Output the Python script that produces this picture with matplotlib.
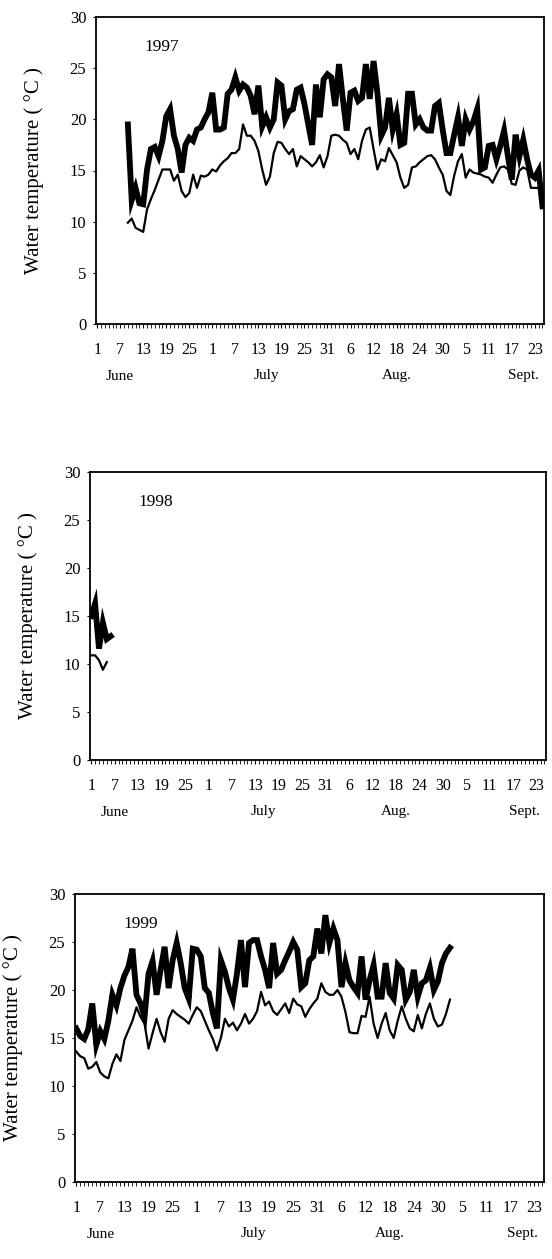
import matplotlib
matplotlib.use("Agg")
import matplotlib.pyplot as plt
from matplotlib.ticker import MultipleLocator

plt.rcParams['font.family'] = ['Liberation Serif', 'DejaVu Serif']

# x axis: days counted from June 1 (= 0)
tick_days = [0, 6, 12, 18, 24, 30, 36, 42, 48, 54, 60, 66, 72, 78, 84, 90, 96, 102, 108, 114]
tick_labels = ["1", "7", "13", "19", "25", "1", "7", "13", "19", "25", "31",
               "6", "12", "18", "24", "30", "5", "11", "17", "23"]
month_names = ["June", "July", "Aug.", "Sept."]
month_days = [6, 44, 78, 111]

# 1997
start_1997 = 8
thick_1997 = [19.5, 12.1, 13.3, 11.8, 11.7, 15.1, 17.1, 17.3, 16.4, 17.9,
              20.3, 21.0, 18.4, 17.1, 14.8, 17.5, 18.2, 17.9, 19.0, 19.2,
              20.0, 20.7, 22.6, 19.0, 19.0, 19.2, 22.5, 22.9, 24.1, 22.8,
              23.4, 23.1, 22.3, 20.5, 23.3, 19.3, 20.2, 19.2, 20.0, 23.6,
              23.3, 20.0, 20.8, 21.0, 22.9, 23.1, 21.5, 19.5, 17.5, 23.4,
              20.2, 23.9, 24.4, 24.1, 21.3, 25.4, 22.0, 18.9, 22.6, 22.8,
              21.8, 22.1, 25.4, 22.0, 25.7, 22.6, 18.4, 19.2, 22.1, 19.0,
              20.5, 17.5, 17.7, 22.5, 22.5, 19.5, 20.0, 19.2, 18.9, 18.9,
              21.3, 21.6, 19.0, 16.7, 16.7, 18.5, 20.2, 17.4, 20.0, 19.0,
              19.8, 21.0, 15.1, 15.3, 17.4, 17.5, 16.1, 17.4, 18.9, 16.4,
              14.1, 18.5, 16.4, 18.0, 16.1, 14.6, 14.3, 15.0, 11.5]
thin_1997 = [9.9, 10.3, 9.4, 9.2, 9.0, 11.2, 12.2, 13.1, 14.1, 15.1,
             15.1, 15.1, 14.0, 14.6, 13.0, 12.4, 12.8, 14.6, 13.3, 14.5,
             14.4, 14.6, 15.1, 14.9, 15.5, 15.9, 16.2, 16.7, 16.7, 17.1,
             19.5, 18.4, 18.4, 17.9, 16.9, 15.1, 13.6, 14.4, 16.7, 17.8,
             17.7, 17.1, 16.6, 17.1, 15.4, 16.4, 16.1, 15.8, 15.4, 15.8,
             16.5, 15.3, 16.4, 18.4, 18.5, 18.4, 18.0, 17.7, 16.6, 17.1,
             16.1, 17.9, 19.0, 19.2, 17.1, 15.1, 16.1, 15.9, 17.2, 16.5,
             15.8, 14.3, 13.3, 13.6, 15.3, 15.4, 15.8, 16.1, 16.4, 16.5,
             16.1, 15.3, 14.6, 13.0, 12.6, 14.5, 15.9, 16.6, 14.3, 15.1,
             14.8, 14.7, 14.6, 14.4, 14.3, 13.8, 14.6, 15.3, 15.4, 15.1,
             13.7, 13.6, 15.0, 15.3, 15.1, 13.3, 13.3, 13.3, 11.8]

# 1998
start_1998 = 0
thick_1998 = [15.0, 16.3, 11.6, 14.3, 12.6, 12.9]
thin_1998 = [10.9, 10.9, 10.4, 9.4, 10.2]

# 1999
start_1999 = 0
thick_1999 = [16.0, 15.2, 14.9, 15.9, 18.6, 14.3, 15.7, 14.9, 16.8, 19.5,
              18.4, 20.2, 21.5, 22.4, 24.3, 19.5, 18.6, 17.2, 21.7, 23.0,
              19.5, 22.1, 24.5, 20.2, 23.1, 24.9, 22.8, 20.2, 19.1, 24.3,
              24.2, 23.5, 20.2, 19.7, 17.6, 16.0, 23.1, 21.9, 20.2, 19.0,
              21.7, 25.2, 20.3, 24.9, 25.2, 25.2, 23.5, 22.1, 20.2, 24.9,
              21.7, 22.1, 23.1, 24.0, 25.0, 24.2, 20.3, 20.7, 23.1, 23.5,
              26.4, 23.8, 27.8, 24.9, 26.4, 25.2, 20.3, 22.8, 21.0, 20.3,
              19.7, 23.5, 19.0, 21.0, 22.6, 19.3, 19.3, 22.8, 19.7, 19.1,
              22.6, 22.1, 19.0, 19.8, 22.1, 19.3, 20.7, 21.0, 22.3, 20.0,
              20.9, 22.8, 23.8, 24.4]
thin_1999 = [13.6, 13.1, 12.9, 11.8, 12.0, 12.5, 11.4, 11.0, 10.8, 12.3,
             13.3, 12.6, 14.8, 15.8, 16.8, 18.2, 17.2, 16.5, 13.9, 15.5,
             17.0, 15.6, 14.6, 17.0, 17.9, 17.5, 17.2, 16.9, 16.5, 17.4,
             18.2, 17.8, 16.8, 15.8, 14.9, 13.7, 15.0, 17.0, 16.2, 16.6,
             15.8, 16.5, 17.5, 16.5, 17.0, 17.8, 19.8, 18.4, 18.8, 17.8,
             17.4, 18.0, 18.6, 17.6, 19.1, 18.5, 18.3, 17.2, 18.0, 18.6,
             19.1, 20.7, 19.8, 19.5, 19.5, 20.0, 19.3, 17.7, 15.6, 15.5,
             15.5, 17.3, 17.2, 19.3, 16.5, 15.0, 16.5, 17.6, 15.8, 15.0,
             16.8, 18.3, 17.0, 16.0, 15.7, 17.4, 16.0, 17.5, 18.6, 17.0,
             16.2, 16.4, 17.5, 19.0]

W, H = 552, 1259


def panel(fig, left, right, top, bottom, year, start, thick, thin):
    ax = fig.add_axes([left / W, 1 - bottom / H, (right - left) / W, (bottom - top) / H])
    ax.plot(range(start, start + len(thick)), thick, color="black", lw=4.2,
            solid_joinstyle="miter")
    ax.plot(range(start, start + len(thin)), thin, color="black", lw=1.6)

    ax.set_xlim(-0.3, 116.4)
    ax.set_ylim(0, 30)
    ax.set_yticks(range(0, 31, 5))
    ax.set_xticks(tick_days)
    ax.set_xticklabels(tick_labels)
    ax.xaxis.set_minor_locator(MultipleLocator(1))
    ax.tick_params(axis="x", which="major", length=3, width=0.8, pad=10, labelsize=11.5)
    ax.tick_params(axis="x", which="minor", length=3, width=0.6)
    ax.tick_params(axis="y", length=2, width=0.8, pad=5, labelsize=12)
    for s in ax.spines.values():
        s.set_linewidth(1.3)

    ax.set_ylabel("Water temperature ( °C )", fontsize=15)
    ax.yaxis.set_label_coords(-52 / (right - left), 0.5)

    ax.text(66 / (right - left), 1 - 30 / (bottom - top), year, transform=ax.transAxes,
            ha="center", va="center", fontsize=12.5)

    h = bottom - top
    for name, d in zip(month_names, month_days):
        ax.text(d, -52 / h, name, transform=ax.get_xaxis_transform(),
                ha="center", va="center", fontsize=11)
    return ax


fig = plt.figure(figsize=(W / 100, H / 100), dpi=100)
panel(fig, 96, 544, 17, 324, "1997", start_1997, thick_1997, thin_1997)
panel(fig, 90, 546, 472, 760, "1998", start_1998, thick_1998, thin_1998)
panel(fig, 75, 544, 894, 1182, "1999", start_1999, thick_1999, thin_1999)

fig.savefig("out.png", dpi=100)
